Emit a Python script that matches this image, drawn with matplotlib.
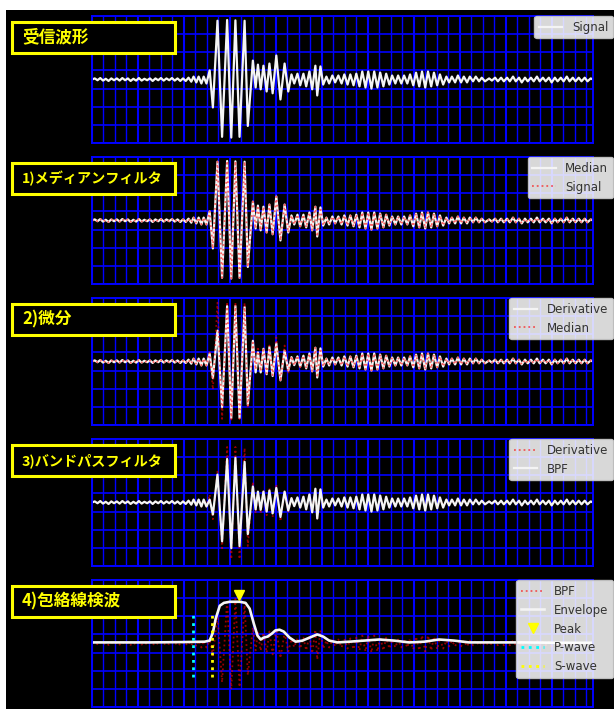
"""Seismic pick pipeline: raw signal, median, derivative, BPF, envelope."""
import matplotlib
matplotlib.use("Agg")
import matplotlib.pyplot as plt
from matplotlib.patches import Rectangle
from matplotlib.ticker import MultipleLocator

JP_FONT = ["Noto Sans CJK JP", "DejaVu Sans"]

# --- sample positions of the waveform extremes --------------------------------
t_pre = [0, 6, 12, 18, 24, 30, 36, 42, 48, 54, 60, 66, 72, 78, 84, 90, 96,
         102, 108, 114, 120, 126, 132, 138, 144, 150, 156, 162, 168, 174, 180,
         186, 192, 198, 204, 210, 216, 221, 227, 232, 238, 243, 249]
t_burst = [256, 263, 273, 283, 294, 303, 312, 321, 332, 339, 350, 356, 361,
           367, 373, 380, 386, 393, 401, 410, 419, 427, 434, 440, 447, 453]
t_tail = [460, 466, 473, 479, 486, 490, 497, 503,
          510, 516, 523, 529, 536, 543, 549, 556, 562, 569, 575,
          582, 588, 595, 601, 608, 614, 621, 627, 634, 640,
          647, 653, 660, 666, 673, 679, 686, 692,
          699, 705, 712, 718, 725, 731, 738, 744, 751, 757, 764,
          771, 777, 783, 790, 796, 803, 809, 816, 822, 829, 835, 842, 848, 855,
          864, 870, 877, 883, 890, 896, 903, 909, 916, 922, 929, 935, 942, 948,
          955, 961, 968, 974, 981, 987, 994, 1000, 1007, 1013, 1020, 1026,
          1033, 1039, 1046, 1052, 1059, 1065, 1072, 1078, 1085, 1090]

# --- amplitudes -------------------------------------------------------------
v_pre = [0, .03, -.02, .04, -.03, .02, -.04, .03, -.02, .03, -.03, .04, -.02,
         .03, -.04, .02, -.03, .04, -.03, .02, -.02, .03, -.04, .03, -.02, .04,
         -.03, .03, -.02, .04, -.03, .03, -.04, .03,
         -.04, .05, -.06, .08, -.08, .08, -.11, .08, -.11]
v_tail = [.16, -.19, .22, -.27, .38, -.44, .36, -.14,
          .08, -.11, .11, -.08, .11, -.11, .14, -.14, .14, -.16, .16,
          -.19, .22, -.22, .22, -.25, .22, -.22, .19, -.19, .16,
          -.14, .11, -.11, .11, -.11, .11, -.11, .14,
          -.16, .19, -.19, .22, -.22, .22, -.19, .19, -.16, .14, -.14,
          .08, -.08, .08, -.08, .11, -.08, .08, -.08, .08, -.05, .08, -.05, .05, -.05,
          .03, -.03, .05, -.05, .05, -.05, .05, -.05, .08, -.05, .05, -.08, .05, -.05,
          .05, -.05, .08, -.05, .05, -.05, .05, -.08, .05, -.05, .05, -.05,
          .08, -.05, .05, -.05, .05, -.05, .05, -.05, .03, 0]

sig_burst = [.25, -.77, 1.62, -1.58, 1.64, -1.60, 1.63, -1.58, 1.62, -1.28,
             .52, -.22, .41, -.27, .38, -.33, .44, -.38, .66, -.55, .44, -.33,
             .14, -.11, .16, -.16]
deriv_burst = [.22, -.46, .85, -1.26, 1.53, -1.56, 1.53, -1.56, 1.50, -1.20,
               .57, -.30, .25, -.30, .35, -.35, .40, -.40, .50, -.52, .30, -.25,
               .12, -.10, .14, -.14]
bpf_burst = [.08, -.33, .77, -1.07, 1.20, -1.26, 1.23, -1.20, 1.12, -.87,
             .44, -.19, .30, -.20, .30, -.25, .33, -.30, .40, -.40, .30, -.22,
             .12, -.10, .14, -.14]

env_t = [0, 126, 202, 245, 256, 263, 269, 278, 287, 300, 321, 334, 343, 352,
         360, 367, 373, 382, 391, 399, 408, 417, 430, 443, 458, 473, 490, 503,
         516, 534, 560, 592, 625, 657, 690, 723, 755, 788, 820, 864, 929, 1016, 1090]
env_v = [.03, .03, .04, .05, .08, .30, .68, 1.04, 1.12, 1.15, 1.15, 1.12, .96,
         .55, .22, .11, .16, .19, .27, .36, .38, .33, .16, .05, .08, .16, .25,
         .19, .08, .03, .05, .08, .11, .08, .03, .05, .11, .08, .03, .03, .03,
         .02, .02]

peak_t, peak_v = 319, 1.33
p_wave_t, s_wave_t = 219, 260
pick_lo, pick_hi = -0.93, 0.85

t_all = t_pre + t_burst + t_tail
signal = v_pre + sig_burst + v_tail
median = v_pre + sig_burst + v_tail
deriv = v_pre + deriv_burst + v_tail
bpf = v_pre + bpf_burst + v_tail

titles = ["受信波形", "1)メディアンフィルタ", "2)微分", "3)バンドパスフィルタ", "4)包絡線検波"]
title_sizes = [12, 10.2, 12, 10.2, 12]

W, H = 614, 709
fig = plt.figure(figsize=(W / 100, H / 100), dpi=100)
fig.patch.set_facecolor("white")
fig.add_artist(Rectangle((6 / W, 0), 1, (H - 10) / H, transform=fig.transFigure,
                         facecolor="black", edgecolor="none", zorder=-1))

tops = [16, 157, 298, 439, 580]
ax_h = 127
axes = []
for top in tops:
    ax = fig.add_axes([92 / W, 1 - (top + ax_h) / H, 501 / W, ax_h / H])
    ax.set_facecolor("black")
    ax.set_xlim(0, 1090)
    ax.set_ylim(-1.75, 1.75)
    ax.xaxis.set_major_locator(MultipleLocator(100))
    ax.xaxis.set_minor_locator(MultipleLocator(25))
    ax.yaxis.set_major_locator(MultipleLocator(0.5, offset=0.25))
    ax.grid(which="major", axis="x", color="#0000ff", lw=1.5)
    ax.grid(which="minor", axis="x", color="#0000ff", lw=1.0)
    ax.grid(which="major", axis="y", color="#0000ff", lw=1.2)
    ax.set_axisbelow(True)
    ax.tick_params(which="both", length=0, labelbottom=False, labelleft=False)
    for sp in ax.spines.values():
        sp.set_color("#0000ff")
        sp.set_linewidth(1.4)
    axes.append(ax)

red_dot = dict(color="red", ls=":", lw=1.3, alpha=0.6)
white = dict(color="#f4f4f4", lw=1.6)

axes[0].plot(t_all, signal, label="Signal", **white)

axes[1].plot(t_all, median, label="Median", **white)
axes[1].plot(t_all, signal, label="Signal", **red_dot)

axes[2].plot(t_all, deriv, label="Derivative", **white)
axes[2].plot(t_all, median, label="Median", **red_dot)

axes[3].plot(t_all, deriv, label="Derivative", **red_dot)
axes[3].plot(t_all, bpf, label="BPF", **white)

ax = axes[4]
ax.plot(t_all, bpf, label="BPF", **red_dot)
ax.plot(env_t, env_v, color="#f4f4f4", lw=1.9, label="Envelope")
ax.plot([peak_t], [peak_v], "v", color="#ffff00", ms=7, ls="none", label="Peak")
ax.plot([p_wave_t, p_wave_t], [pick_lo, pick_hi], color="cyan", ls=":", lw=2, label="P-wave")
ax.plot([s_wave_t, s_wave_t], [pick_lo, pick_hi], color="#ffff00", ls=":", lw=2, label="S-wave")

for ax in axes:
    leg = ax.legend(loc="upper right", bbox_to_anchor=(1.04, 1.0), borderaxespad=0,
                    fontsize=8.5, framealpha=0.85, facecolor="white", edgecolor="#cccccc")
    for txt in leg.get_texts():
        txt.set_color("#333333")

# yellow-framed stage labels
for top, title, size in zip(tops, titles, title_sizes):
    y0 = 1 - (top + 6 + 31) / H
    fig.add_artist(Rectangle((12 / W, y0), 163 / W, 31 / H, transform=fig.transFigure,
                             facecolor="black", edgecolor="#ffff00", lw=2.2, zorder=5))
    fig.text(22 / W, y0 + 15.5 / H, title, color="#ffff00", fontsize=size,
             fontweight="bold", family=JP_FONT, va="center", ha="left", zorder=6)

fig.savefig("out.png", dpi=100)
